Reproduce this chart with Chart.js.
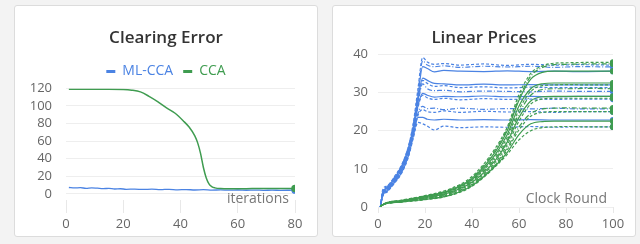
<!DOCTYPE html>
<html>
<head>
<meta charset="utf-8">
<script src="https://cdn.jsdelivr.net/npm/chart.js@4"></script>
<style>
  body { margin: 0; background: #f3f3f3; font-family: "Open Sans", sans-serif; }
  .card { position: absolute; top: 5px; width: 302px; height: 230px; background: #fff; border: 1px solid #dcdcdc; border-radius: 3px; }
  #card1 { left: 14px; }
  #card2 { left: 332px; }
</style>
</head>
<body>
<div class="card" id="card1"><canvas id="errorChart"></canvas></div>
<div class="card" id="card2"><canvas id="priceChart"></canvas></div>
<script>
const BLUE = '#4b83e3';
const GREEN = '#3f9c50';

// ---- Clearing Error ----
const errorYTicks = [0, 20, 40, 60, 80, 100, 120];
const errorXTicks = [0, 20, 40, 60, 80];

const mlccaIters = [1, 3, 5, 7, 9, 11, 13, 15, 17, 19, 21, 24, 27, 30, 33, 36, 39, 42, 45, 48, 51, 54, 57, 60, 63, 66, 69, 72, 75, 78, 80];
const mlccaError = [7.2, 6.8, 7.0, 6.3, 6.8, 6.4, 6.0, 6.2, 5.5, 5.8, 5.2, 5.4, 5.0, 5.3, 4.8, 5.2, 4.6, 4.9, 4.4, 4.7, 4.3, 4.5, 4.2, 4.4, 4.1, 4.3, 4.0, 4.2, 4.0, 4.1, 4.2];

const ccaIters = [1, 5, 10, 15, 20, 23, 26, 29, 32, 35, 38, 41, 43, 45, 46, 47, 48, 49, 50, 51, 52, 54, 57, 60, 65, 70, 75, 80];
const ccaError = [119, 119, 119, 119, 118.8, 118, 116, 111, 105, 98, 92, 83, 76, 66, 58, 46, 30, 18, 11, 8, 6.8, 6.0, 5.8, 5.8, 6.0, 6.1, 6.2, 6.2];

// ---- Linear Prices ----
const priceYTicks = [0, 10, 20, 30, 40];
const priceXTicks = [0, 20, 40, 60, 80, 100];

const mlccaRounds = [1, 2, 4, 7, 10, 13, 15, 17, 19, 21, 24, 28, 35, 45, 55, 65, 75, 85, 100];
const mlccaPrices = [
  [0, 4.5, 5.6, 8.0, 11.0, 16.0, 22.0, 31.0, 39.2, 38.0, 37.4, 37.6, 37.2, 37.5, 37.1, 37.4, 37.2, 37.3, 37.2],
  [0, 4.0, 5.4, 7.8, 10.8, 16.0, 21.5, 30.0, 38.3, 37.2, 36.8, 37.0, 36.6, 36.9, 36.7, 36.9, 36.6, 36.8, 36.7],
  [0, 3.8, 5.2, 7.6, 10.6, 15.5, 21.0, 29.0, 36.8, 36.3, 35.4, 35.8, 35.6, 35.5, 35.7, 35.5, 35.6, 35.5, 35.6],
  [0, 3.6, 5.0, 7.4, 10.4, 15.4, 20.5, 28.0, 33.8, 33.2, 32.4, 32.3, 32.0, 32.2, 32.0, 32.1, 32.0, 32.0, 32.0],
  [0, 3.5, 5.0, 7.2, 10.2, 15.0, 20.0, 27.5, 33.2, 32.4, 31.6, 31.8, 31.3, 31.5, 31.2, 31.4, 31.3, 31.3, 31.3],
  [0, 3.4, 4.8, 7.0, 10.0, 14.8, 19.8, 27.0, 32.3, 31.0, 30.5, 30.6, 30.2, 30.4, 30.3, 30.2, 30.4, 30.3, 30.3],
  [0, 3.3, 4.6, 6.9, 9.8, 14.5, 19.5, 26.5, 29.8, 29.3, 28.8, 29.0, 28.9, 29.1, 28.9, 29.0, 28.9, 29.0, 29.0],
  [0, 3.2, 4.5, 6.8, 9.6, 14.3, 19.2, 26.0, 29.3, 28.6, 28.2, 28.5, 28.1, 28.4, 28.2, 28.3, 28.2, 28.3, 28.3],
  [0, 3.1, 4.4, 6.6, 9.4, 14.0, 19.0, 24.5, 26.4, 25.8, 25.9, 25.5, 25.9, 25.6, 25.8, 25.7, 25.9, 25.7, 25.7],
  [0, 3.0, 4.3, 6.5, 9.2, 13.8, 18.5, 24.0, 25.5, 25.0, 24.8, 25.2, 24.8, 25.1, 24.9, 25.0, 24.8, 25.0, 25.0],
  [0, 2.9, 4.2, 6.4, 9.0, 13.5, 18.5, 23.5, 23.5, 23.0, 22.8, 23.0, 22.8, 22.9, 22.8, 22.9, 22.8, 22.8, 22.8],
  [0, 2.8, 4.0, 6.2, 8.8, 13.2, 18.0, 22.2, 21.8, 21.2, 20.2, 21.2, 20.8, 21.0, 20.9, 21.1, 20.9, 21.0, 21.0]
];

const ccaRounds = [1, 3, 10, 20, 30, 40, 50, 55, 60, 65, 70, 75, 80, 90, 100];
const ccaPrices = [
  [0.2, 1.0, 1.8, 3.0, 4.6, 8.0, 15.5, 21.0, 29.5, 35.0, 37.0, 37.7, 37.8, 37.9, 37.9],
  [0.2, 1.0, 1.7, 2.9, 4.4, 7.7, 15.0, 20.5, 28.5, 34.3, 36.6, 37.3, 37.4, 37.5, 37.5],
  [0.2, 1.0, 1.7, 2.8, 4.3, 7.5, 14.5, 20.0, 28.0, 33.5, 35.3, 35.6, 35.6, 35.6, 35.6],
  [0.2, 0.9, 1.6, 2.7, 4.1, 7.2, 13.8, 19.0, 26.5, 31.0, 32.3, 32.5, 32.5, 32.5, 32.5],
  [0.2, 0.9, 1.6, 2.6, 4.0, 7.0, 13.3, 18.3, 25.5, 30.3, 31.8, 32.0, 32.1, 32.0, 32.0],
  [0.2, 0.9, 1.5, 2.5, 3.8, 6.8, 12.8, 17.5, 24.5, 29.3, 30.8, 31.0, 31.0, 31.1, 31.0],
  [0.2, 0.9, 1.5, 2.4, 3.7, 6.5, 12.3, 17.0, 23.5, 27.8, 28.9, 29.0, 29.0, 29.0, 29.0],
  [0.2, 0.8, 1.5, 2.3, 3.6, 6.3, 11.8, 16.3, 22.5, 27.0, 28.3, 28.5, 28.5, 28.5, 28.5],
  [0.2, 0.8, 1.4, 2.2, 3.4, 6.0, 11.3, 15.5, 21.0, 24.5, 25.7, 25.9, 26.0, 25.9, 25.9],
  [0.2, 0.8, 1.4, 2.1, 3.2, 5.8, 11.0, 15.0, 20.2, 23.8, 24.8, 25.0, 25.0, 25.0, 25.0],
  [0.2, 0.8, 1.3, 2.0, 3.0, 5.6, 10.8, 14.3, 19.0, 21.8, 22.4, 22.5, 22.5, 22.5, 22.5],
  [0.2, 0.8, 1.3, 1.9, 2.9, 5.4, 10.6, 13.8, 17.6, 20.0, 20.8, 21.0, 21.1, 21.0, 21.0]
];

const dashStyles = [[3, 2], [5, 2, 1, 2], [], [], [3, 2], [5, 2, 1, 2], [], [3, 2], [5, 2, 1, 2], [3, 2], [], [3, 2]];

function toPoints(xs, ys) {
  return xs.map((x, i) => ({ x: x, y: ys[i] }));
}

function lastPointOnly(r) {
  return ctx => ctx.dataIndex === ctx.dataset.data.length - 1 ? r : 0;
}

// axis title drawn inside the plot, bottom right
const cornerTitle = {
  id: 'cornerTitle',
  afterDatasetsDraw(chart, args, opts) {
    const { ctx, chartArea } = chart;
    ctx.save();
    ctx.font = '14px "Open Sans"';
    ctx.fillStyle = '#777';
    ctx.textAlign = 'right';
    ctx.textBaseline = 'middle';
    ctx.fillText(opts.text, chartArea.right - 6, chart.scales.y.getPixelForValue(0) + opts.dy);
    ctx.restore();
  }
};

function setTicks(values) {
  return axis => { axis.ticks = values.map(v => ({ value: v })); };
}

// empty right axis, only keeps a margin so title/legend stay centred on the card
const rightGap = {
  position: 'right',
  afterFit: s => { s.width = 22; },
  grid: { display: false },
  border: { display: false },
  ticks: { display: false }
};

Chart.defaults.font.family = '"Open Sans", sans-serif';
Chart.defaults.color = '#666';
Chart.defaults.animation = false;

new Chart(document.getElementById('errorChart'), {
  type: 'line',
  data: {
    datasets: [
      {
        label: 'ML-CCA',
        data: toPoints(mlccaIters, mlccaError),
        borderColor: BLUE,
        backgroundColor: BLUE,
        borderWidth: 1.3,
        pointRadius: lastPointOnly(3),
        cubicInterpolationMode: 'monotone',
        order: 1
      },
      {
        label: 'CCA',
        data: toPoints(ccaIters, ccaError),
        borderColor: GREEN,
        backgroundColor: GREEN,
        borderWidth: 1.5,
        pointRadius: lastPointOnly(3),
        cubicInterpolationMode: 'monotone',
        order: 0
      }
    ]
  },
  options: {
    responsive: true,
    maintainAspectRatio: false,
    plugins: {
      title: {
        display: true,
        text: 'Clearing Error',
        color: '#333',
        font: { size: 17, weight: '600' },
        padding: { top: 22, bottom: 6 }
      },
      legend: {
        labels: {
          boxWidth: 9,
          boxHeight: 3,
          padding: 10,
          font: { size: 14 },
          sort: (a, b) => a.datasetIndex - b.datasetIndex,
          generateLabels: chart => Chart.defaults.plugins.legend.labels.generateLabels(chart).map(item => {
            item.fontColor = item.strokeStyle;
            item.lineWidth = 0;
            return item;
          })
        }
      },
      tooltip: { enabled: false },
      cornerTitle: { text: 'iterations', dy: 5 }
    },
    scales: {
      x: {
        type: 'linear',
        min: 0,
        max: 80,
        afterBuildTicks: setTicks(errorXTicks),
        afterFit: s => { s.height = 36; },
        border: { display: false },
        grid: { drawOnChartArea: false, tickLength: 13, color: '#e8e8e8' },
        ticks: { padding: 3, autoSkip: false, font: { size: 13 } }
      },
      y: {
        min: -7,
        max: 120,
        afterBuildTicks: setTicks(errorYTicks),
        afterFit: s => { s.width = 51; },
        border: { display: false },
        grid: { drawTicks: false, color: '#eeeeee' },
        ticks: { padding: 14, autoSkip: false, font: { size: 13 } }
      },
      gap: rightGap
    }
  },
  plugins: [cornerTitle]
});

const priceSets = [];
mlccaPrices.forEach((vals, i) => {
  priceSets.push({
    label: 'ML-CCA ' + (i + 1),
    data: toPoints(mlccaRounds, vals),
    borderColor: BLUE,
    backgroundColor: BLUE,
    borderWidth: 1.2,
    borderDash: dashStyles[i],
    pointRadius: lastPointOnly(2.5),
    cubicInterpolationMode: 'monotone',
    order: 1
  });
});
ccaPrices.forEach((vals, i) => {
  priceSets.push({
    label: 'CCA ' + (i + 1),
    data: toPoints(ccaRounds, vals),
    borderColor: GREEN,
    backgroundColor: GREEN,
    borderWidth: 1.2,
    borderDash: dashStyles[i],
    pointRadius: lastPointOnly(2.5),
    cubicInterpolationMode: 'monotone',
    order: 0
  });
});

new Chart(document.getElementById('priceChart'), {
  type: 'line',
  data: { datasets: priceSets },
  options: {
    responsive: true,
    maintainAspectRatio: false,
    plugins: {
      title: {
        display: true,
        text: 'Linear Prices',
        color: '#333',
        font: { size: 17, weight: '600' },
        padding: { top: 22, bottom: 6 }
      },
      legend: { display: false },
      tooltip: { enabled: false },
      cornerTitle: { text: 'Clock Round', dy: -8 }
    },
    scales: {
      x: {
        type: 'linear',
        min: 0,
        max: 100,
        afterBuildTicks: setTicks(priceXTicks),
        afterFit: s => { s.height = 29; },
        border: { display: false },
        grid: { drawOnChartArea: false, tickLength: 6, color: '#e8e8e8' },
        ticks: { padding: 3, autoSkip: false, font: { size: 13 } }
      },
      y: {
        min: 0,
        max: 40,
        afterBuildTicks: setTicks(priceYTicks),
        afterFit: s => { s.width = 45; },
        border: { display: false },
        grid: { drawTicks: false, color: '#eeeeee' },
        ticks: { padding: 10, autoSkip: false, font: { size: 13 } }
      },
      gap: rightGap
    }
  },
  plugins: [cornerTitle]
});
</script>
</body>
</html>
